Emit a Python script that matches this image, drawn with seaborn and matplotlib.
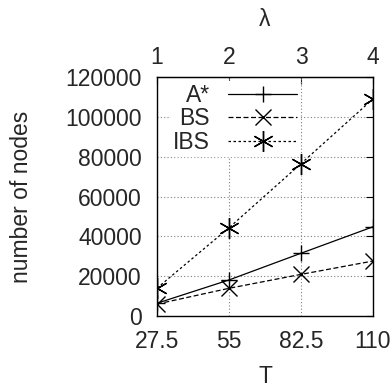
import matplotlib
matplotlib.use('Agg')
import matplotlib.pyplot as plt
import seaborn as sns
import pandas as pd

T = [27.5, 55, 82.5, 110]
lam = [1, 2, 3, 4]
astar = [6400, 18100, 31500, 44800]
bs = [6000, 13900, 20900, 27600]
ibs = [14000, 44300, 76500, 109000]

series = {'A*': astar, 'BS': bs, 'IBS': ibs}
styles = {
    'A*': dict(marker='+', linestyle='-', markersize=11),
    'BS': dict(marker='x', linestyle=(0, (4, 2)), markersize=11),
    'IBS': dict(marker=(6, 2, 0), linestyle=(0, (2, 2)), markersize=15),
}

sns.set_style('white')
plt.rcParams['font.family'] = ['Liberation Sans', 'DejaVu Sans']
plt.rcParams['font.size'] = 16.5

fig = plt.figure(figsize=(3.9, 3.88), dpi=100)
ax = fig.add_axes([0.4026, 0.1856, 0.5538, 0.6159])

for name, vals in series.items():
    d = pd.DataFrame({'T': T, 'nodes': vals})
    sns.lineplot(data=d, x='T', y='nodes', color='black', label=name,
                 markeredgewidth=1, markeredgecolor='black',
                 linewidth=0.9, ax=ax, **styles[name])

handles, labels = ax.get_legend_handles_labels()
leg = ax.legend(handles, labels, loc='upper left', markerfirst=False,
                handlelength=3.0, labelspacing=0.03, borderpad=0.1,
                bbox_to_anchor=(0.01, 1.03), frameon=True, fontsize=16.5)
leg.get_frame().set_edgecolor('white')
leg.get_frame().set_facecolor('white')
leg.get_frame().set_alpha(1)
leg.set_zorder(1)
for vp in leg._legend_handle_box.get_children():
    vp.align = 'right'

ax.set_xlim(27.5, 110)
ax.set_ylim(0, 120000)
ax.set_xticks(T)
ax.set_xticklabels(['27.5', '55', '82.5', '110'])
ax.set_yticks(range(0, 120001, 20000))
ax.grid(True, color='gray', linestyle=(0, (1, 2)), linewidth=0.8, zorder=0.5)
ax.tick_params(direction='in', length=5, width=0.8, top=False, right=True,
               labelsize=16.5, color='black')
ax.tick_params(axis='x', pad=10)
ax.tick_params(axis='y', pad=11)
ax.set_xlabel('T', fontsize=16.5, labelpad=9)
ax.set_ylabel('number of nodes', fontsize=16.5, labelpad=23)
for s in ax.spines.values():
    s.set_color('black')
    s.set_linewidth(1)

top = ax.secondary_xaxis('top')
top.set_xticks(T)
top.set_xticklabels([str(l) for l in lam])
top.tick_params(direction='in', length=5, width=0.8, labelsize=16.5, pad=6)
top.set_xlabel('λ', fontsize=16.5, labelpad=14)

fig.savefig('out.png', dpi=100)
